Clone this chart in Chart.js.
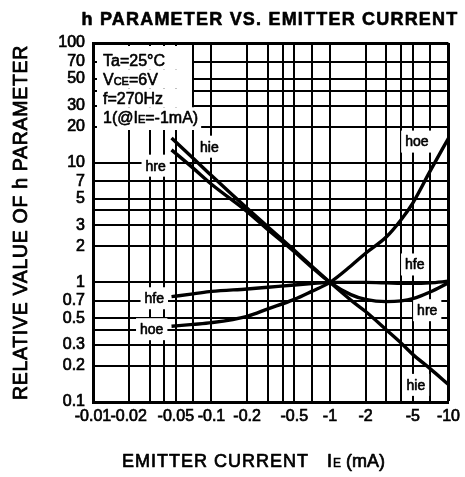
<!DOCTYPE html>
<html><head><meta charset="utf-8">
<script src="https://cdn.jsdelivr.net/npm/chart.js@4"></script>
<style>html,body{margin:0;padding:0;background:#fff;}#wrap{width:465px;height:477px;}</style>
</head><body><div id="wrap"><canvas id="c" width="465" height="477"></canvas></div>
<script>
// Emitter current magnitude |IE| (mA); axis shows it as negative values
const emitterCurrent = [0.046, 0.07, 0.1, 0.2, 0.3, 0.5, 0.7, 1, 1.5, 2, 3, 4, 5, 7, 10];
const hie = [16.1, 10.9, 7.8, 4.15, 2.9, 1.85, 1.37, 1, 0.71, 0.57, 0.4, 0.31, 0.25, 0.19, 0.14];
const hre = [12.8, 9.0, 6.6, 3.9, 2.75, 1.8, 1.34, 1, 0.79, 0.72, 0.69, 0.70, 0.73, 0.83, 0.99];
const hfe = [0.76, 0.80, 0.84, 0.88, 0.91, 0.95, 0.975, 1, 1.0, 1.0, 0.99, 0.98, 0.98, 0.99, 1.02];
const hoe = [0.43, 0.445, 0.46, 0.52, 0.60, 0.72, 0.84, 1, 1.37, 1.75, 2.4, 3.35, 4.6, 8.5, 16];

const xGridValues = [0.01,0.02,0.03,0.04,0.05,0.07,0.1,0.2,0.3,0.4,0.5,0.7,1,2,3,4,5,7,10];
const xTickValues = [0.01,0.02,0.05,0.1,0.2,0.5,1,2,5,10];
const xTickLabels = ['-0.01','-0.02','-0.05','-0.1','-0.2','-0.5','-1','-2','-5','-10'];
const yGridValues = [0.1,0.2,0.3,0.4,0.5,0.7,1,2,3,4,5,7,10,20,30,40,50,70,100];
const yTickValues = [0.1,0.2,0.3,0.5,0.7,1,2,3,5,7,10,20,30,50,70,100];
const yTickLabels = ['0.1','0.2','0.3','0.5','0.7','1','2','3','5','7','10','20','30','50','70','100'];

const titleText = 'h PARAMETER VS. EMITTER CURRENT';
const yTitleText = 'RELATIVE VALUE OF h PARAMETER';
const conditionLines = [
  [['Ta=25°C',0]],
  [['V',0],['CE',1],['=6V',0]],
  [['f=270Hz',0]],
  [['1(@I',0],['E',1],['=-1mA)',0]]
];

// curve name labels, anchored in data space
const curveLabels = [
  {text:'hie', x:0.096, y:13.6},
  {text:'hre', x:0.0338, y:9.44},
  {text:'hfe', x:0.0329, y:0.736},
  {text:'hoe', x:0.0313, y:0.406},
  {text:'hoe', x:5.41, y:15},
  {text:'hfe', x:5.2, y:1.41},
  {text:'hre', x:6.62, y:0.585},
  {text:'hie', x:5.31, y:0.139}
];

const FONT = '"Liberation Sans", Arial, Helvetica, sans-serif';
function findLabel(vals, labels, v){
  for (let i=0;i<vals.length;i++){ if (Math.abs(vals[i]-v)/vals[i] < 1e-6) return labels[i]; }
  return '';
}
function setLS(ctx, v){ if ('letterSpacing' in ctx) ctx.letterSpacing = v; }
function heavyText(ctx, t, x, y, sw){
  ctx.lineWidth = sw; ctx.strokeStyle = '#000'; ctx.lineJoin = 'round';
  ctx.strokeText(t, x, y); ctx.fillText(t, x, y);
}

const annot = {
  id:'annot',
  beforeDatasetsDraw(chart){
    const ctx = chart.ctx, xs = chart.scales.x, ys = chart.scales.y, ca = chart.chartArea;
    ctx.save();
    // condition block
    const centers = [16.5, 36, 55, 73.5];
    const left = ca.left + 10;
    conditionLines.forEach((runs, i) => {
      let w = 0;
      runs.forEach(r => { ctx.font = (r[1] ? '11px ' : '16px ') + FONT; w += ctx.measureText(r[0]).width; });
      const cy = ca.top + centers[i];
      const boxTop = i === 0 ? ca.top + 3 : ca.top + (centers[i-1] + centers[i]) / 2;
      const boxBot = i === centers.length - 1 ? ca.top + 87 : ca.top + (centers[i] + centers[i+1]) / 2;
      ctx.fillStyle = '#fff';
      ctx.fillRect(ca.left + 4, boxTop, Math.max(left + w + 3, ca.left + 99) - (ca.left + 4), boxBot - boxTop);
      ctx.fillStyle = '#000';
      ctx.textBaseline = 'alphabetic'; ctx.textAlign = 'left';
      let px = left;
      runs.forEach(r => { ctx.font = (r[1] ? '11px ' : '16px ') + FONT; heavyText(ctx, r[0], px, cy + 6, 0.6); px += ctx.measureText(r[0]).width; });
    });
    // curve labels
    ctx.font = '14px ' + FONT; ctx.textBaseline = 'middle'; ctx.textAlign = 'center';
    curveLabels.forEach(l => {
      const px = xs.getPixelForValue(l.x), py = ys.getPixelForValue(l.y);
      const w = ctx.measureText(l.text).width;
      ctx.fillStyle = '#fff'; ctx.fillRect(px - w/2 - 4, py - 11, w + 8, 22);
      ctx.fillStyle = '#000'; heavyText(ctx, l.text, px, py + 1, 0.6);
    });
    ctx.restore();
  },
  afterDraw(chart){
    const ctx = chart.ctx, ca = chart.chartArea;
    ctx.save();
    ctx.fillStyle = '#000';
    // main title
    ctx.font = 'bold 18px ' + FONT; setLS(ctx, '1.2px');
    ctx.textAlign = 'center'; ctx.textBaseline = 'alphabetic';
    heavyText(ctx, titleText, 270, 25, 0.6);
    // y title
    ctx.save();
    ctx.translate(27, (ca.top + ca.bottom) / 2);
    ctx.rotate(-Math.PI / 2);
    ctx.font = '19.5px ' + FONT; setLS(ctx, '0.7px');
    ctx.textAlign = 'center';
    heavyText(ctx, yTitleText, 0, 0, 0.8);
    ctx.restore();
    // x title
    ctx.textAlign = 'left';
    ctx.font = '18px ' + FONT; setLS(ctx, '1px');
    heavyText(ctx, 'EMITTER CURRENT', 122, 467, 0.7);
    setLS(ctx, '0px');
    let px = 327;
    ctx.font = '18px ' + FONT; heavyText(ctx, 'I', px, 467, 0.7); px += ctx.measureText('I').width + 1;
    ctx.font = '12px ' + FONT; heavyText(ctx, 'E', px, 467, 0.5); px += ctx.measureText('E').width + 5;
    ctx.font = '18px ' + FONT; heavyText(ctx, '(mA)', px, 467, 0.7);
    ctx.restore();
  }
};

const seriesList = [['hie', hie], ['hre', hre], ['hfe', hfe], ['hoe', hoe]];

new Chart(document.getElementById('c'), {
  type: 'line',
  data: {
    datasets: seriesList.map(s => ({
      label: s[0],
      data: emitterCurrent.map((v, i) => ({x: v, y: s[1][i]})),
      borderColor: '#000', borderWidth: 3.4, pointRadius: 0, fill: false,
      cubicInterpolationMode: 'monotone'
    }))
  },
  options: {
    responsive: false, animation: false, devicePixelRatio: 1,
    layout: {padding: {top: 43, right: 13, bottom: 0, left: 0}},
    plugins: {legend: {display: false}, tooltip: {enabled: false}, title: {display: false}},
    scales: {
      x: {
        type: 'logarithmic', min: 0.01, max: 10,
        afterBuildTicks: s => { s.ticks = xGridValues.map(v => ({value: v})); },
        afterFit: s => { s.height = 75; },
        grid: {color: '#000', lineWidth: c => (c.tick && c.tick.value === 10 ? 3 : 2), drawTicks: false},
        border: {color: '#000', width: 3},
        ticks: {autoSkip: false, maxRotation: 0, minRotation: 0, padding: 5, color: '#000',
          textStrokeColor: '#000', textStrokeWidth: 0.7,
          font: {family: FONT, size: 16},
          callback: v => findLabel(xTickValues, xTickLabels, v)}
      },
      y: {
        type: 'logarithmic', min: 0.1, max: 100,
        afterBuildTicks: s => { s.ticks = yGridValues.map(v => ({value: v})); },
        afterFit: s => { s.width = 93; },
        grid: {color: '#000', lineWidth: c => (c.tick && c.tick.value === 100 ? 3 : 2), drawTicks: false},
        border: {color: '#000', width: 3},
        ticks: {autoSkip: false, padding: 8, color: '#000',
          textStrokeColor: '#000', textStrokeWidth: 0.7,
          font: {family: FONT, size: 16},
          callback: v => findLabel(yTickValues, yTickLabels, v)}
      }
    }
  },
  plugins: [annot]
});
</script></body></html>
